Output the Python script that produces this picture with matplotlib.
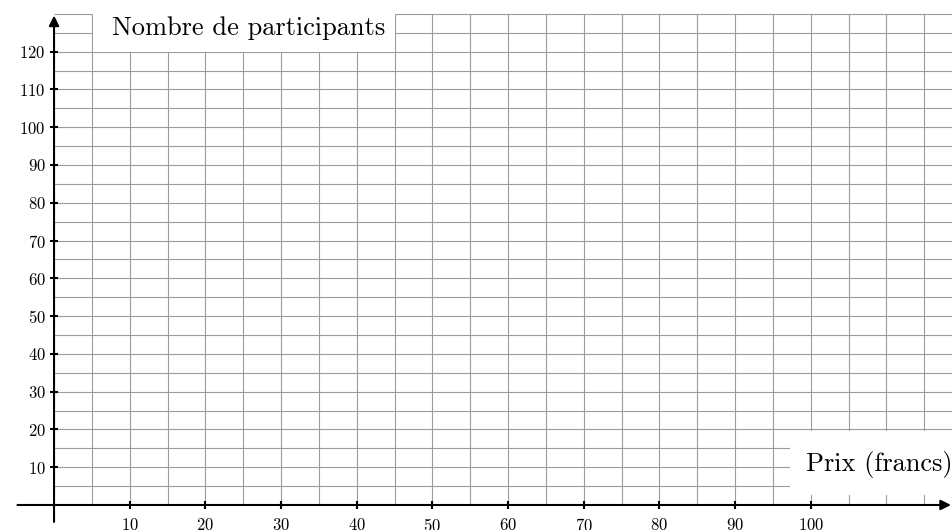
import matplotlib.pyplot as plt
from matplotlib.patches import Rectangle

plt.rcParams['font.family'] = ['cmr10', 'DejaVu Serif']
plt.rcParams['axes.formatter.use_mathtext'] = True

x_ticks = [10, 20, 30, 40, 50, 60, 70, 80, 90, 100]
y_ticks = [10, 20, 30, 40, 50, 60, 70, 80, 90, 100, 110, 120]
x_grid = list(range(5, 125, 5))
y_grid = list(range(5, 135, 5))
x_label = 'Prix (francs)'
y_label = 'Nombre de participants'

fig = plt.figure(figsize=(9.52, 5.30), dpi=100)
ax = fig.add_axes([0, 0, 1, 1])
ax.set_xlim(-7.14, 118.67)
ax.set_ylim(-6.62, 133.67)

# quadrillage
ax.vlines(x_grid, 0, 130, color='#9c9c9c', lw=0.8, zorder=1)
ax.hlines(y_grid, 0, 125, color='#9c9c9c', lw=0.8, zorder=1)

# cadres blancs sous les titres des axes
ax.add_patch(Rectangle((5.1, 120), 40, 20, fc='white', ec='none', zorder=2))
ax.add_patch(Rectangle((97.2, 2.6), 30, 17.1, fc='white', ec='none', zorder=2))
ax.text(7.7, 126.2, y_label, fontsize=19, ha='left', va='center', zorder=3)
ax.text(99.4, 10.6, x_label, fontsize=19, ha='left', va='center', zorder=3)

# axes avec fleches
ax.annotate('', xy=(0, 130.3), xytext=(0, -5.2), annotation_clip=False,
            arrowprops=dict(arrowstyle='-|>', lw=1.5, color='black', mutation_scale=15), zorder=4)
ax.annotate('', xy=(118.9, 0), xytext=(-5.2, 0), annotation_clip=False,
            arrowprops=dict(arrowstyle='-|>', lw=1.5, color='black', mutation_scale=15), zorder=4)

for s in ax.spines.values():
    s.set_color('none')
ax.spines['left'].set_position(('data', 0))
ax.spines['bottom'].set_position(('data', 0))
ax.set_xticks(x_ticks)
ax.set_yticks(y_ticks)
ax.tick_params(direction='inout', length=6, width=1.5, labelsize=12, zorder=5)
ax.tick_params(axis='x', pad=6)
ax.tick_params(axis='y', pad=3)

fig.savefig('out.png', dpi=100)
